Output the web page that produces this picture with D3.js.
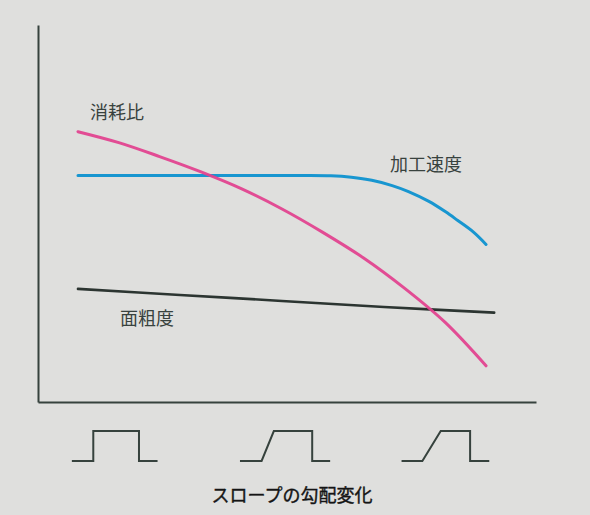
<!DOCTYPE html>
<html>
<head>
<meta charset="utf-8">
<script src="https://cdn.jsdelivr.net/npm/d3@7"></script>
<style>
  html, body { margin: 0; padding: 0; background: #dfdfdd; }
  svg { display: block; }
  text { font-family: "Noto Sans CJK JP", "Noto Sans", sans-serif; }
</style>
</head>
<body>
<div id="chart"></div>
<script>
// スロープの勾配 (0 = 急峻 ... 100 = 緩やか)
var xs = [0, 10, 20, 30, 40, 50, 60, 70, 80, 90, 100]
var ratio = [71.7, 68.8, 65.1, 61.1, 56.6, 51.2, 45.0, 38.2, 30.2, 21.1, 9.6]   // 消耗比

var speedX = [0, 20, 40, 55, 62, 67, 72, 77, 81, 86, 90, 93, 97, 100]
var speed = [60.1, 60.1, 60.1, 60.1, 60.0, 59.6, 58.8, 57.4, 55.8, 53.2, 50.5, 48.2, 45.0, 41.8] // 加工速度

var roughX = [0, 25, 50, 75, 102]
var rough = [30.0, 28.4, 26.8, 25.2, 23.7]                                    // 面粗度

// 下のパルス波形 (x は同じ勾配軸の単位)
var pulseStart = [-1.5, 39.7, 79.3]
var riseStart = [3.75, 45.0, 84.4]
var riseEnd = [3.75, 48.0, 88.9]
var fallX = [14.95, 57.4, 96.1]
var pulseEnd = [19.5, 61.8, 100.8]

var seriesNames = ['消耗比', '加工速度', '面粗度']
var caption = 'スロープの勾配変化'

var width = 590,
    height = 515;

var svg = d3.select('#chart')
    .append('svg')
    .attr('width', width)
    .attr('height', height);

var x = d3.scaleLinear()
    .domain([-9.8, 112.25])
    .range([38, 536]);

var y = d3.scaleLinear()
    .domain([0, 100])
    .range([402, 25]);

// パルス用の縦スケール
var py = d3.scaleLinear()
    .domain([0, 1])
    .range([461, 431]);

// 軸 (目盛りなし)
svg.append('g')
    .attr('transform', 'translate(' + x(-9.8) + ',0)')
    .call(d3.axisLeft(y).ticks(0).tickSizeOuter(0))
    .select('.domain')
    .attr('stroke', '#36423d')
    .attr('stroke-width', 2);

svg.append('g')
    .attr('transform', 'translate(0,' + y(0) + ')')
    .call(d3.axisBottom(x).ticks(0).tickSizeOuter(0))
    .select('.domain')
    .attr('stroke', '#36423d')
    .attr('stroke-width', 2);

var line = d3.line()
    .x(function (d) { return x(d[0]); })
    .y(function (d) { return y(d[1]); })
    .curve(d3.curveCatmullRom);

svg.append('path')
    .datum(d3.zip(roughX, rough))
    .attr('d', line)
    .attr('fill', 'none')
    .attr('stroke', '#2c3531')
    .attr('stroke-width', 2.6)
    .attr('stroke-linecap', 'round');

svg.append('path')
    .datum(d3.zip(speedX, speed))
    .attr('d', line)
    .attr('fill', 'none')
    .attr('stroke', '#1896d0')
    .attr('stroke-width', 3)
    .attr('stroke-linecap', 'round');

svg.append('path')
    .datum(d3.zip(xs, ratio))
    .attr('d', line)
    .attr('fill', 'none')
    .attr('stroke', '#e2438f')
    .attr('stroke-width', 3)
    .attr('stroke-linecap', 'round')
    .attr('stroke-opacity', 0.95);

// 系列ラベル
var labelPos = [[xs[0], ratio[0]], [speedX[speedX.length - 1], speed[0]], [roughX[0], rough[0]]]
var labelDx = [12, -96, 42],
    labelDy = [-13, -4, 36];

svg.selectAll('.label')
    .data(seriesNames)
    .enter().append('text')
    .attr('class', 'label')
    .attr('x', function (d, i) { return x(labelPos[i][0]) + labelDx[i]; })
    .attr('y', function (d, i) { return y(labelPos[i][1]) + labelDy[i]; })
    .attr('font-size', 18)
    .attr('fill', '#38423e')
    .text(function (d) { return d; });

// パルス波形
var pulses = d3.range(pulseStart.length).map(function (i) {
    return [
        [pulseStart[i], 0], [riseStart[i], 0], [riseEnd[i], 1],
        [fallX[i], 1], [fallX[i], 0], [pulseEnd[i], 0]
    ];
});

svg.selectAll('.pulse')
    .data(pulses)
    .enter().append('path')
    .attr('class', 'pulse')
    .attr('d', d3.line()
        .x(function (d) { return x(d[0]); })
        .y(function (d) { return py(d[1]); }))
    .attr('fill', 'none')
    .attr('stroke', '#36423d')
    .attr('stroke-width', 2)
    .attr('stroke-linejoin', 'miter');

svg.append('text')
    .attr('x', 292)
    .attr('y', 502)
    .attr('text-anchor', 'middle')
    .attr('font-size', 18)
    .attr('fill', '#151515')
    .attr('stroke', '#151515')
    .attr('stroke-width', 0.4)
    .text(caption);
</script>
</body>
</html>
